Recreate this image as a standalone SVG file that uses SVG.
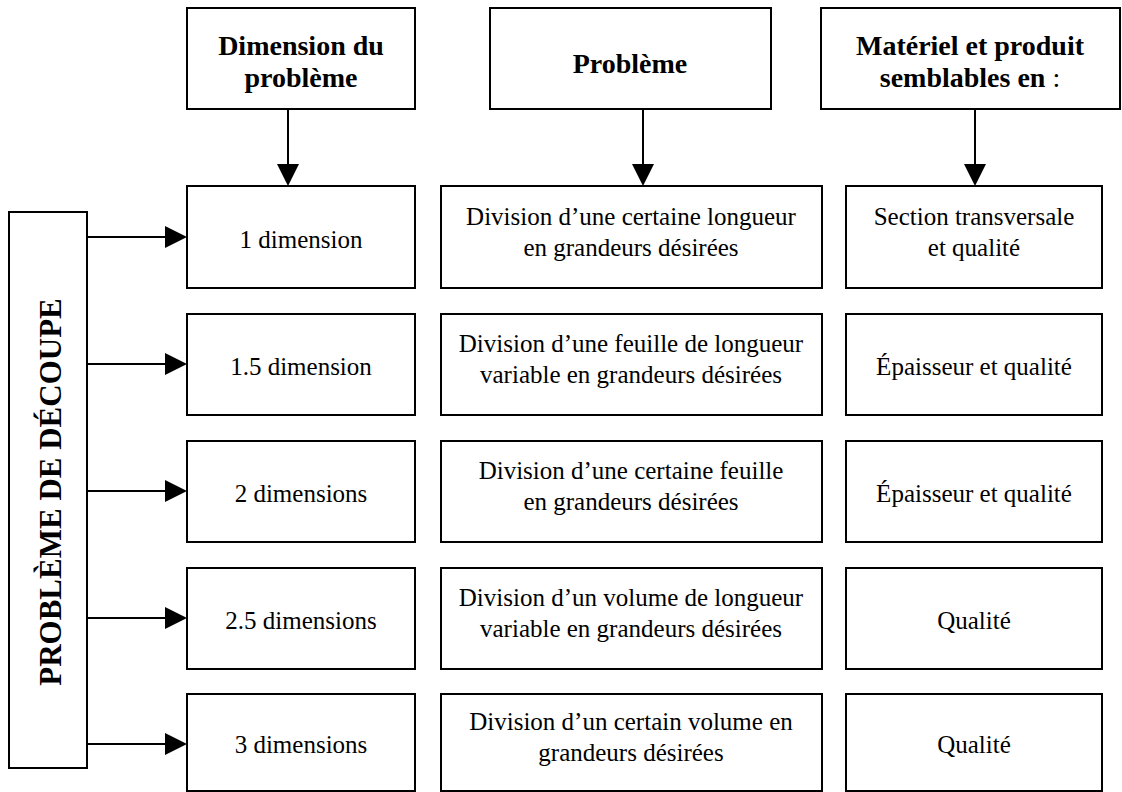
<svg xmlns="http://www.w3.org/2000/svg" width="1122" height="792" viewBox="0 0 1122 792">
  <style>
    .box { fill: #ffffff; stroke: #000000; stroke-width: 2; }
    .link { fill: none; stroke: #000000; stroke-width: 2; marker-end: url(#head); }
    .hd { font-family: "Liberation Serif", "Times New Roman", serif; font-weight: bold; font-size: 28px; fill: #000000; text-anchor: middle; }
    .tx { font-family: "Liberation Serif", "Times New Roman", serif; font-size: 25px; fill: #000000; text-anchor: middle; }
    .side { font-family: "Liberation Serif", "Times New Roman", serif; font-weight: bold; font-size: 31px; fill: #000000; text-anchor: middle; }
  </style>
  <defs>
    <marker id="head" viewBox="0 0 22 22" refX="20" refY="11" markerWidth="22" markerHeight="22" markerUnits="userSpaceOnUse" orient="auto">
      <path d="M0,0 L22,11 L0,22 Z" fill="#000000"/>
    </marker>
  </defs>

  <rect width="1122" height="792" fill="#ffffff"/>

  <!-- column headers -->
  <g id="header-dimension">
    <rect class="box" x="187" y="8" width="228" height="101"/>
    <text class="hd" x="301" y="55">Dimension du</text>
    <text class="hd" x="301" y="87">problème</text>
  </g>
  <g id="header-probleme">
    <rect class="box" x="490" y="8" width="281" height="101"/>
    <text class="hd" x="630" y="73">Problème</text>
  </g>
  <g id="header-materiel">
    <rect class="box" x="821" y="8" width="299" height="101"/>
    <text class="hd" x="970" y="55">Matériel et produit</text>
    <text class="hd" x="970" y="87">semblables en <tspan font-weight="normal">:</tspan></text>
  </g>

  <!-- vertical category box -->
  <g id="probleme-decoupe">
    <rect class="box" x="9" y="212" width="78" height="556"/>
    <text class="side" transform="translate(61,492) rotate(-90)">PROBLÈME DE DÉCOUPE</text>
  </g>

  <!-- row 1 -->
  <g id="dim-1">
    <rect class="box" x="187" y="186" width="228" height="102"/>
    <text class="tx" x="301" y="248">1 dimension</text>
  </g>
  <g id="prob-1">
    <rect class="box" x="441" y="186" width="381" height="102"/>
    <text class="tx" x="631" y="225">Division d’une certaine longueur</text>
    <text class="tx" x="631" y="256">en grandeurs désirées</text>
  </g>
  <g id="mat-1">
    <rect class="box" x="846" y="186" width="256" height="102"/>
    <text class="tx" x="974" y="225">Section transversale</text>
    <text class="tx" x="974" y="256">et qualité</text>
  </g>

  <!-- row 2 -->
  <g id="dim-1-5">
    <rect class="box" x="187" y="314" width="228" height="101"/>
    <text class="tx" x="301" y="375">1.5 dimension</text>
  </g>
  <g id="prob-2">
    <rect class="box" x="441" y="314" width="381" height="101"/>
    <text class="tx" x="631" y="352">Division d’une feuille de longueur</text>
    <text class="tx" x="631" y="383">variable en grandeurs désirées</text>
  </g>
  <g id="mat-2">
    <rect class="box" x="846" y="314" width="256" height="101"/>
    <text class="tx" x="974" y="375">Épaisseur et qualité</text>
  </g>

  <!-- row 3 -->
  <g id="dim-2">
    <rect class="box" x="187" y="441" width="228" height="101"/>
    <text class="tx" x="301" y="502">2 dimensions</text>
  </g>
  <g id="prob-3">
    <rect class="box" x="441" y="441" width="381" height="101"/>
    <text class="tx" x="631" y="479">Division d’une certaine feuille</text>
    <text class="tx" x="631" y="510">en grandeurs désirées</text>
  </g>
  <g id="mat-3">
    <rect class="box" x="846" y="441" width="256" height="101"/>
    <text class="tx" x="974" y="502">Épaisseur et qualité</text>
  </g>

  <!-- row 4 -->
  <g id="dim-2-5">
    <rect class="box" x="187" y="568" width="228" height="101"/>
    <text class="tx" x="301" y="629">2.5 dimensions</text>
  </g>
  <g id="prob-4">
    <rect class="box" x="441" y="568" width="381" height="101"/>
    <text class="tx" x="631" y="606">Division d’un volume de longueur</text>
    <text class="tx" x="631" y="637">variable en grandeurs désirées</text>
  </g>
  <g id="mat-4">
    <rect class="box" x="846" y="568" width="256" height="101"/>
    <text class="tx" x="974" y="629">Qualité</text>
  </g>

  <!-- row 5 -->
  <g id="dim-3">
    <rect class="box" x="187" y="694" width="228" height="97"/>
    <text class="tx" x="301" y="753">3 dimensions</text>
  </g>
  <g id="prob-5">
    <rect class="box" x="441" y="694" width="381" height="97"/>
    <text class="tx" x="631" y="730">Division d’un certain volume en</text>
    <text class="tx" x="631" y="761">grandeurs désirées</text>
  </g>
  <g id="mat-5">
    <rect class="box" x="846" y="694" width="256" height="97"/>
    <text class="tx" x="974" y="753">Qualité</text>
  </g>

  <!-- connectors -->
  <g id="connectors">
    <line class="link" x1="288" y1="109" x2="288" y2="184"/>
    <line class="link" x1="643" y1="109" x2="643" y2="184"/>
    <line class="link" x1="975" y1="109" x2="975" y2="184"/>
    <line class="link" x1="87" y1="237" x2="185" y2="237"/>
    <line class="link" x1="87" y1="364" x2="185" y2="364"/>
    <line class="link" x1="87" y1="491" x2="185" y2="491"/>
    <line class="link" x1="87" y1="618" x2="185" y2="618"/>
    <line class="link" x1="87" y1="744" x2="185" y2="744"/>
  </g>
</svg>
